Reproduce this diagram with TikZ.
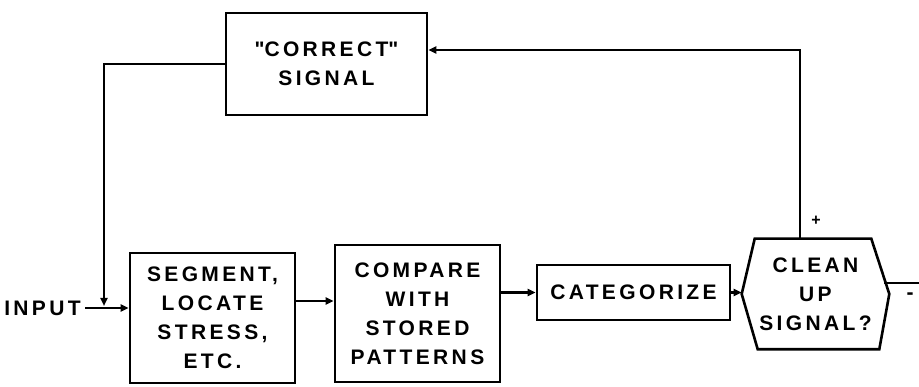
\documentclass[tikz,border=0pt]{standalone}
\usepackage{fontspec}
\setmainfont{Liberation Sans}[LetterSpace=16]
\usetikzlibrary{arrows.meta}
\begin{document}
\begin{tikzpicture}[x=1pt,y=-1pt,
  line width=2.6pt,
  txt/.style={font=\fontsize{21}{29}\selectfont\bfseries, inner sep=0pt},
  box/.style={txt, draw, align=center},
  arr/.style={-{Triangle[length=8pt,width=7pt]}}]
\useasboundingbox (0,0) rectangle (919,387);

% blocks
\node[box, minimum width=201pt, minimum height=102pt] (corr) at (326.5,64) {\textquotedbl CORRECT\textquotedbl\\SIGNAL};
\node[box, minimum width=165pt, minimum height=130pt] (seg) at (212.5,318) {SEGMENT,\\LOCATE\\STRESS,\\ETC.};
\node[box, minimum width=165pt, minimum height=137pt] (cmp) at (417.5,313.5) {COMPARE\\WITH\\STORED\\PATTERNS};
\node[box, minimum width=193pt, minimum height=55pt] (cat) at (633.5,292.5) {CATEGORIZE};

% decision block (hexagon)
\node[txt, align=center, minimum width=145pt, minimum height=108pt] (hex) at (815.5,294) {CLEAN\\UP\\SIGNAL?};
\draw ([xshift=13pt]hex.north west) -- (hex.west) -- ([xshift=16pt]hex.south west)
  -- ([xshift=-10pt]hex.south east) -- (hex.east) -- ([xshift=-18pt]hex.north east) -- cycle;

% input
\node[txt, anchor=west] (inp) at (3,308) {INPUT};
\coordinate (j) at (104,306);
\draw[arr] ([xshift=3pt]inp.east) -- (seg.west |- inp.east);

% forward chain
\coordinate (l1) at (0,301);
\draw[arr] (seg.east |- l1) -- (cmp.west |- l1);
\draw[arr] (cmp.east |- cat.west) -- (cat.west);
\draw[arr] (cat.east) -- (hex.west |- cat.east);

% outputs of the decision
\coordinate (ho) at (884,283);
\coordinate (out) at (919,283);
\draw (ho) -- (out);
\node[txt, font=\fontsize{16}{16}\selectfont\bfseries] (plus) at (816,221) {+};
\node[txt] (minus) at (910,296) {-};

% feedback loop
\coordinate (tp) at (800,50);
\draw[arr] (tp |- hex.north) -- (tp) -- (corr.east |- tp);
\draw[arr] (corr.west) -| (j);
\end{tikzpicture}
\end{document}
